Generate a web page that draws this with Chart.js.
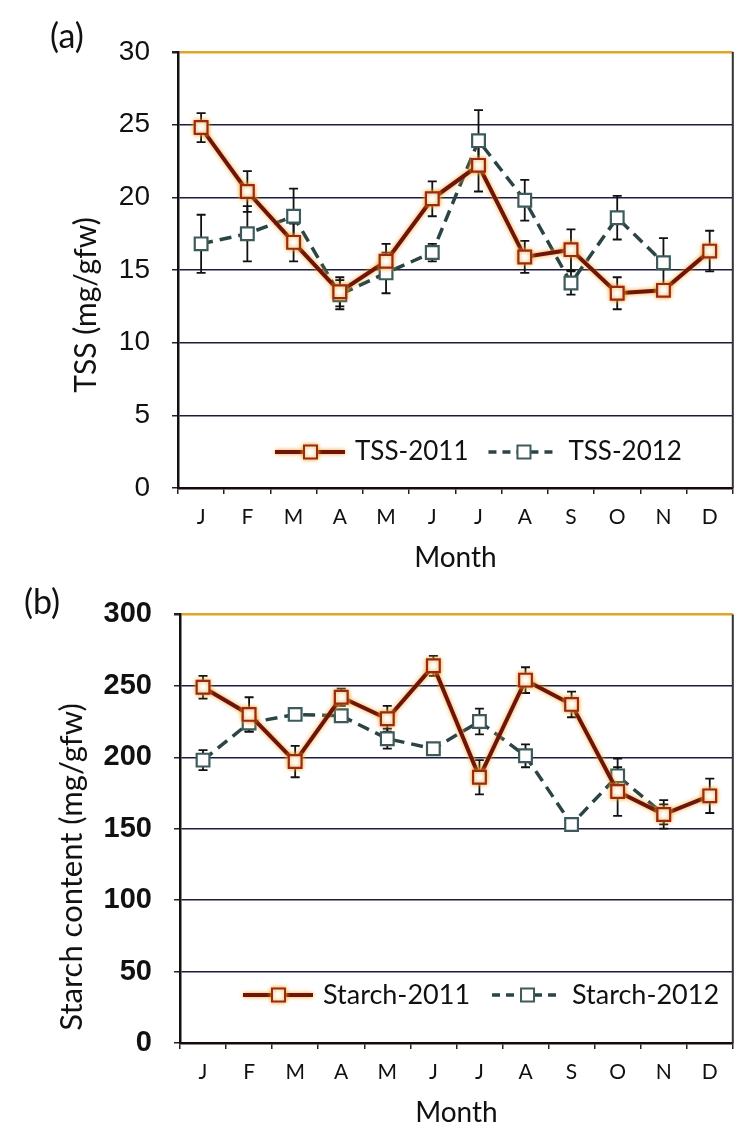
<!DOCTYPE html>
<html>
<head>
<meta charset="utf-8">
<script src="https://cdn.jsdelivr.net/npm/chart.js@4.4.1/dist/chart.umd.min.js"></script>
<style>
    html, body { margin: 0; padding: 0; background: #fff; overflow: hidden; }
    #panelA { position: absolute; left: 0; top: 0; width: 744px; height: 575px; }
    #panelB { position: absolute; left: 0; top: 575px; width: 744px; height: 552px; }
</style>
</head>
<body>
<div id="panelA"><canvas id="tssChart"></canvas></div>
<div id="panelB"><canvas id="starchChart"></canvas></div>
<script>
// === DATA ===
const MONTHS = ['J', 'F', 'M', 'A', 'M', 'J', 'J', 'A', 'S', 'O', 'N', 'D'];

const TSS_2011 = [24.8, 20.4, 16.9, 13.5, 15.6, 19.9, 22.2, 15.9, 16.4, 13.4, 13.6, 16.3];
const TSS_2011_ERR = [1.0, 1.4, 1.3, 1.0, 1.2, 1.2, 1.8, 1.1, 1.4, 1.1, 0.4, 1.4];
const TSS_2012 = [16.8, 17.5, 18.7, 13.3, 14.8, 16.2, 23.9, 19.8, 14.1, 18.6, 15.5, null];
const TSS_2012_ERR = [2.0, 1.9, 1.9, 1.0, 1.4, 0.6, 2.1, 1.4, 0.8, 1.5, 1.7, null];

const STARCH_2011 = [249, 230, 197, 242, 227, 264, 186, 254, 237, 176, 160, 173];
const STARCH_2011_ERR = [8, 12, 11, 6, 9, 7, 12, 9, 9, 17, 7, 12];
const STARCH_2012 = [198, 224, 230, 229, 213, 206, 225, 201, 153, 187, 160, null];
const STARCH_2012_ERR = [7, 6, 3, 4, 7, 3, 9, 8, 2, 12, 10, null];

const COLORS = {
    line2011: '#6e140c',
    mark2011: '#9a2a18',
    glow2011: 'rgba(240, 165, 40, 1)',
    line2012: '#2b4446',
    mark2012: '#3e5a5a',
    grid: '#1c1c3c',
    topLine: '#e0a526',
    axis: '#111111',
    text: '#111111'
};

// === PLUGINS ===
const errorBars = {
    id: 'errorBars',
    beforeDatasetsDraw(chart) {
        const { ctx, scales: { x, y } } = chart;
        ctx.save();
        ctx.strokeStyle = '#111';
        ctx.lineWidth = 1.8;
        chart.data.datasets.forEach(ds => {
            if (!ds.errors) return;
            ds.data.forEach((v, j) => {
                const e = ds.errors[j];
                if (v == null || e == null) return;
                const px = x.getPixelForValue(j);
                const top = y.getPixelForValue(v + e);
                const bot = y.getPixelForValue(v - e);
                ctx.beginPath();
                ctx.moveTo(px, top); ctx.lineTo(px, bot);
                ctx.moveTo(px - 4.5, top); ctx.lineTo(px + 4.5, top);
                ctx.moveTo(px - 4.5, bot); ctx.lineTo(px + 4.5, bot);
                ctx.stroke();
            });
        });
        ctx.restore();
    }
};

const glow = {
    id: 'glow',
    beforeDatasetDraw(chart, args) {
        if (args.index !== 0) return;
        chart.ctx.save();
        chart.ctx.shadowColor = COLORS.glow2011;
        chart.ctx.shadowBlur = 4;
    },
    afterDatasetDraw(chart, args) {
        if (args.index !== 0) return;
        chart.ctx.restore();
    }
};

const frame = {
    id: 'frame',
    afterDraw(chart, args, opts) {
        const { ctx, chartArea: a } = chart;
        ctx.save();
        // right border
        ctx.strokeStyle = '#333';
        ctx.lineWidth = 2;
        ctx.beginPath();
        ctx.moveTo(a.right, a.top);
        ctx.lineTo(a.right, a.bottom);
        ctx.stroke();

        // panel label
        ctx.fillStyle = COLORS.text;
        ctx.font = '34px Lato';
        ctx.textAlign = 'center';
        ctx.textBaseline = 'middle';
        ctx.fillText(opts.label, opts.labelX, opts.labelY);

        // y title
        ctx.translate(opts.titleX, opts.titleY);
        ctx.rotate(-Math.PI / 2);
        ctx.font = opts.titleFont;
        ctx.fillText(opts.title, 0, 0);
        ctx.restore();
    }
};

const innerLegend = {
    id: 'innerLegend',
    afterDraw(chart, args, opts) {
        const { ctx, chartArea: a } = chart;
        const y = a.bottom - opts.offsetY;
        let x = opts.x;
        ctx.save();
        ctx.font = opts.font;
        ctx.textBaseline = 'middle';
        chart.data.datasets.forEach((ds, i) => {
            ctx.save();
            if (i === 0) { ctx.shadowColor = COLORS.glow2011; ctx.shadowBlur = 4; }
            ctx.strokeStyle = ds.borderColor;
            ctx.lineWidth = ds.borderWidth;
            ctx.setLineDash(ds.borderDash ? [8, 6] : []);
            ctx.beginPath();
            ctx.moveTo(x, y);
            ctx.lineTo(x + 70, y);
            ctx.stroke();
            ctx.setLineDash([]);
            ctx.fillStyle = '#fff';
            ctx.strokeStyle = ds.pointBorderColor;
            ctx.lineWidth = 2;
            ctx.fillRect(x + 29, y - 6.5, 13, 13);
            ctx.strokeRect(x + 29, y - 6.5, 13, 13);
            ctx.restore();
            ctx.fillStyle = COLORS.text;
            ctx.fillText(ds.label, x + 80, y);
            x += 80 + ctx.measureText(ds.label).width + opts.gap;
        });
        ctx.restore();
    }
};

// === CHART BUILDER ===
function seriesStyle(is2011) {
    return is2011 ? {
        borderColor: COLORS.line2011,
        borderWidth: 4,
        pointBorderColor: COLORS.mark2011
    } : {
        borderColor: COLORS.line2012,
        borderWidth: 3.5,
        borderDash: [12, 7],
        pointBorderColor: COLORS.mark2012
    };
}

function buildChart(canvasId, cfg) {
    const canvas = document.getElementById(canvasId);
    if (!canvas) return;

    const datasets = cfg.series.map((s, i) => ({
        label: s.label,
        data: s.data,
        errors: s.errors,
        ...seriesStyle(i === 0),
        pointStyle: 'rect',
        pointRadius: 9,
        pointBorderWidth: 2.2,
        pointBackgroundColor: '#fff',
        tension: 0,
        spanGaps: false
    }));

    new Chart(canvas, {
        type: 'line',
        data: { labels: MONTHS, datasets: datasets },
        options: {
            responsive: true,
            maintainAspectRatio: false,
            animation: false,
            layout: { padding: { top: cfg.padTop, right: 4, left: 0, bottom: 0 } },
            plugins: {
                legend: { display: false },
                tooltip: { enabled: false },
                frame: cfg.frame,
                innerLegend: cfg.legend
            },
            scales: {
                x: {
                    offset: true,
                    grid: { offset: true, drawOnChartArea: false, tickLength: 6, tickColor: '#222', lineWidth: 1.5 },
                    border: { color: '#1a0808', width: 2.5 },
                    ticks: { font: { family: 'Lato', size: 21 }, color: COLORS.text, padding: 11, maxRotation: 0, autoSkip: false },
                    title: { display: true, text: 'Month', color: COLORS.text, font: { family: 'Lato', size: 28, lineHeight: cfg.monthLH }, padding: { top: 0, bottom: cfg.monthPad } },
                    afterFit: s => { s.height = cfg.xHeight; }
                },
                y: {
                    min: 0,
                    max: cfg.yMax,
                    ticks: { stepSize: cfg.yStep, font: cfg.yFont, color: COLORS.text, padding: 22 },
                    grid: {
                        color: c => c.tick && c.tick.value === cfg.yMax ? COLORS.topLine : COLORS.grid,
                        lineWidth: c => c.tick && c.tick.value === cfg.yMax ? 2.5 : 1.5,
                        tickColor: '#222',
                        tickLength: 6
                    },
                    border: { color: COLORS.axis, width: 2.5 },
                    afterFit: s => { s.width = cfg.yWidth; }
                }
            }
        },
        plugins: [errorBars, glow, frame, innerLegend]
    });
}

document.addEventListener('DOMContentLoaded', function() {
    buildChart('tssChart', {
        series: [
            { label: 'TSS-2011', data: TSS_2011, errors: TSS_2011_ERR },
            { label: 'TSS-2012', data: TSS_2012, errors: TSS_2012_ERR }
        ],
        yMax: 30, yStep: 5,
        yFont: { family: 'Liberation Sans', size: 28 },
        yWidth: 178, xHeight: 87, padTop: 52,
        monthLH: 1.1, monthPad: 2,
        frame: { label: '(a)', labelX: 67, labelY: 37, title: 'TSS (mg/gfw)', titleX: 86, titleY: 305, titleFont: '30px Lato' },
        legend: { x: 275, offsetY: 36, gap: 20, font: '26px Lato' }
    });

    buildChart('starchChart', {
        series: [
            { label: 'Starch-2011', data: STARCH_2011, errors: STARCH_2011_ERR },
            { label: 'Starch-2012', data: STARCH_2012, errors: STARCH_2012_ERR }
        ],
        yMax: 300, yStep: 50,
        yFont: { family: 'Liberation Sans', size: 29, weight: 'bold' },
        yWidth: 180, xHeight: 84, padTop: 37,
        monthLH: 1, monthPad: 0,
        frame: { label: '(b)', labelX: 42, labelY: 28, title: 'Starch content (mg/gfw)', titleX: 72, titleY: 292, titleFont: '31px Lato' },
        legend: { x: 243, offsetY: 48, gap: 22, font: '27px Lato' }
    });
});
</script>
</body>
</html>
